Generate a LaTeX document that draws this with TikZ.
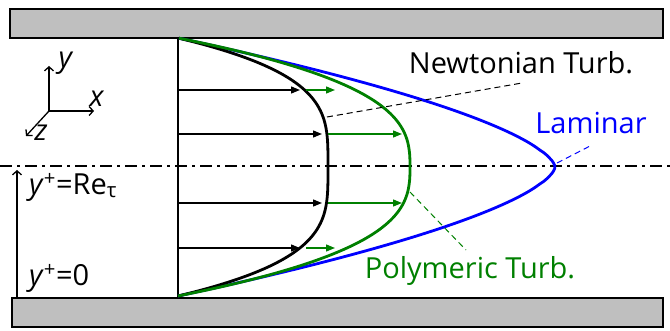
\documentclass[tikz,border=0pt]{standalone}
\usepackage{fontspec}
\setmainfont{Open Sans}
\usetikzlibrary{arrows.meta}

\begin{document}
\begin{tikzpicture}[
  x=1pt, y=-1pt,
  wall/.style  = {draw, line width=1.5pt, fill=black!25},
  prof/.style  = {line width=2.8pt, line join=round},
  vel/.style   = {-{Triangle[length=9pt,width=7pt]}, line width=1.3pt},
  ax/.style    = {-{Straight Barb[length=4pt,width=9pt]}, line width=1.3pt},
  lead/.style  = {dash pattern=on 6pt off 4pt, line width=1pt},
  lbl/.style   = {inner sep=0pt, font=\fontsize{29}{33}\selectfont},
]
\useasboundingbox (0,0) rectangle (670,331);

% walls and centre line
\draw[wall] (10,9) rectangle (663,38);
\draw[wall] (12,298) rectangle (663,327);
\draw[line width=2pt, dash pattern=on 12pt off 5pt on 3pt off 5pt] (0,166) -- (670,166);

% profiles
\coordinate (top) at (178,38);
\coordinate (bot) at (178,297);
\draw[line width=2.5pt] (top) -- (bot);
\draw[prof, blue] plot[domain=-1:1, samples=100, smooth]
  ({178+377*(1-abs(\x)^1.6)}, {167-129*\x});
\draw[prof, black] plot[domain=-1:1, samples=100, smooth]
  ({178+150*(1-abs(\x)^3.6)}, {167-129*\x});
\draw[prof, green!50!black] plot[domain=-1:1, samples=100, smooth]
  ({178+232*(1-abs(\x)^2.8)}, {167-129*\x});

% velocity arrows
\foreach \yy/\bx/\gx in {90/300/335, 134/322/402, 203/322/402, 248/300/335} {
  \draw[vel] (178,\yy) -- (\bx,\yy);
  \draw[vel, green!50!black] (\bx+6,\yy) -- (\gx,\yy);
}

% labels
\node[lbl] (newt) at (521,63) {Newtonian Turb.};
\node[lbl, text=blue] (lam) at (591,123) {Laminar};
\node[lbl, text=green!50!black] (poly) at (470,271) {Polymeric Turb.};
\coordinate (nt) at (327,117);   \coordinate (ntend) at (522,83);
\coordinate (lt) at (557,163);   \coordinate (ltend) at (592,145);
\coordinate (pt) at (410,192);   \coordinate (ptend) at (466,250);
\draw[lead] (nt) -- (ntend);
\draw[lead, blue] (lt) -- (ltend);
\draw[lead, green!50!black] (pt) -- (ptend);

% axes
\coordinate (o) at (49,111);
\node[lbl] (ylab) at (66,63) {\textit{y}};
\node[lbl] (xlab) at (97,99) {\textit{x}};
\node[lbl] (zlab) at (41,133) {\textit{z}};
\draw[ax] (o) -- (49,66);
\draw[ax] (o) -- (94,111);
\draw[ax] (o) -- (26,136);

% wall distance
\coordinate (y0) at (17,297);
\coordinate (yc) at (17,170);
\draw[ax] (y0) -- (yc);
\node[lbl, anchor=west] (ret) at (29,187) {\textit{y}\textsuperscript{+}=Re\textsubscript{τ}};
\node[lbl, anchor=west] (wl) at (29,278) {\textit{y}\textsuperscript{+}=0};

\end{tikzpicture}
\end{document}
